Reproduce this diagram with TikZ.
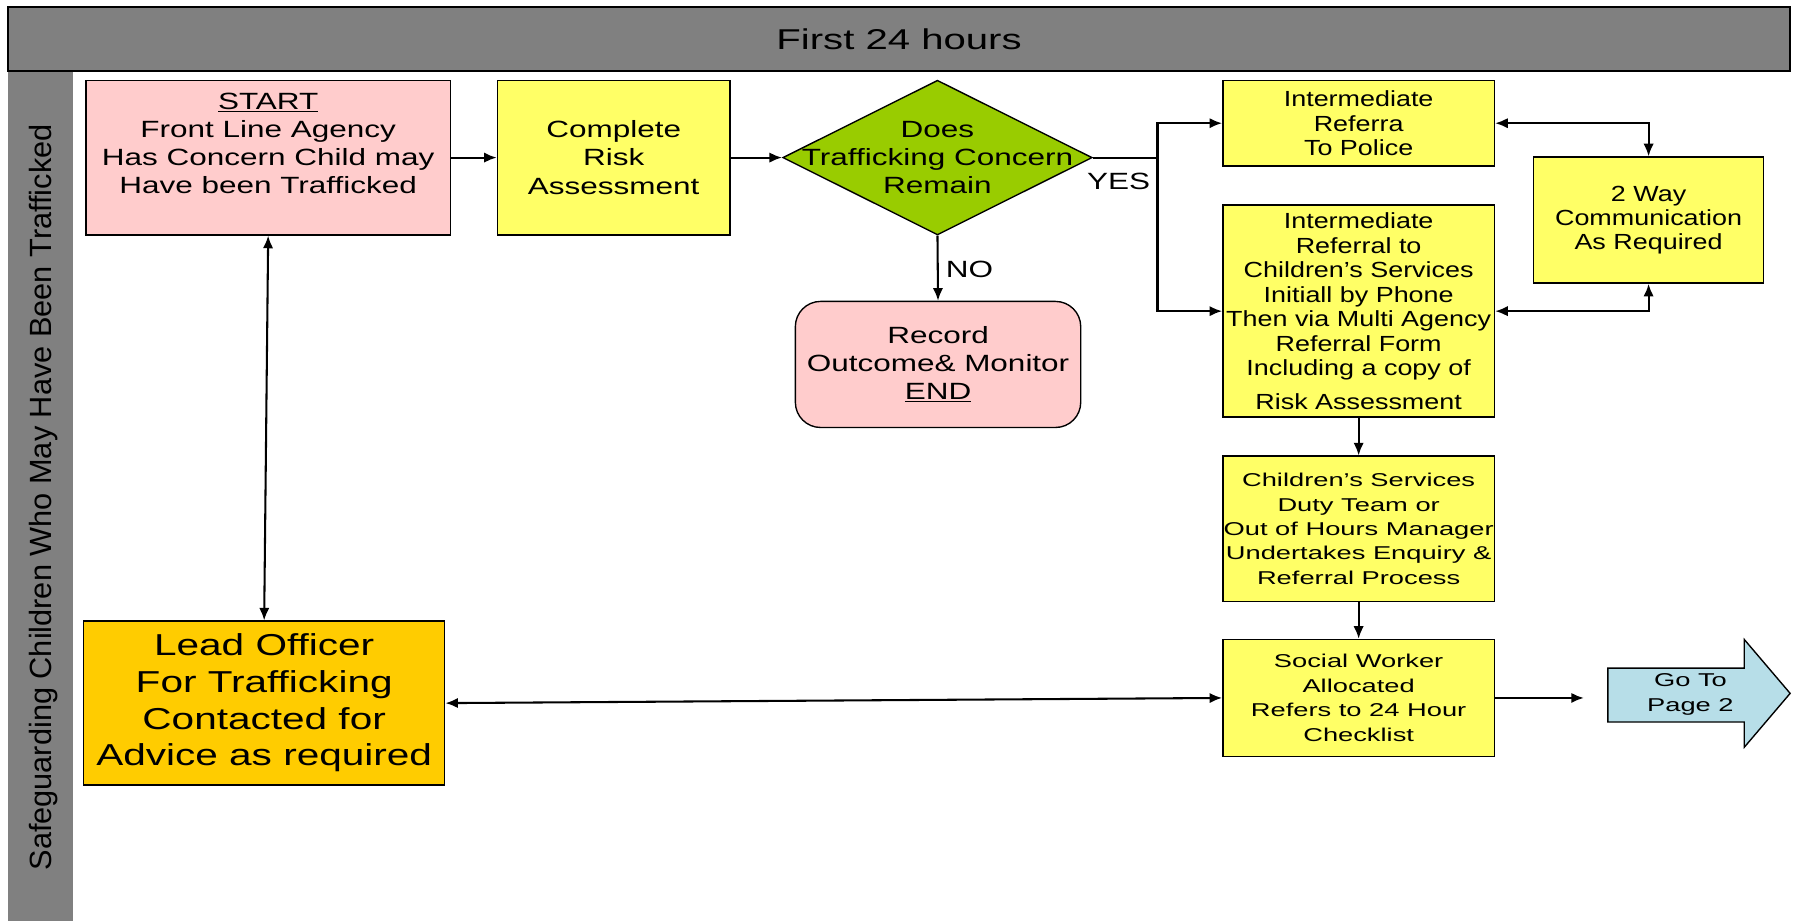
\documentclass[tikz,border=0pt]{standalone}
\usepackage{fontspec}
\setmainfont{Liberation Sans}
\newfontfamily\fhead{Liberation Sans}[FakeStretch=1.4]
\newfontfamily\fmain{Liberation Sans}[FakeStretch=1.34]
\newfontfamily\fnarrow{Liberation Sans}[FakeStretch=1.23]
\newfontfamily\fwide{Liberation Sans}[FakeStretch=1.47]
\usetikzlibrary{arrows.meta,shapes.geometric}
\definecolor{bargrey}{HTML}{808080}
\definecolor{pinkbox}{HTML}{FFCCCC}
\definecolor{yelbox}{HTML}{FFFF66}
\definecolor{greenbox}{HTML}{99CC00}
\definecolor{goldbox}{HTML}{FFCC00}
\definecolor{bluebox}{HTML}{B7DEE8}
\begin{document}
\begin{tikzpicture}[x=1pt,y=-1pt,
  box/.style={draw=black, line width=1.2pt, inner sep=0pt, align=center, anchor=center},
  mainfont/.style={font=\fmain\fontsize{20.5}{24.5}\selectfont},
  narrowfont/.style={font=\fnarrow\fontsize{19.1}{21.3}\selectfont},
  widefont/.style={font=\fwide\fontsize{16.2}{21.3}\selectfont},
  conn/.style={line width=1.8pt, -{Latex[length=11pt,width=9pt]}},
  both/.style={line width=1.8pt, {Latex[length=11pt,width=9pt]}-{Latex[length=11pt,width=9pt]}}]
\useasboundingbox (0,0) rectangle (1568,804);
\fill[white] (0,0) rectangle (1568,804);
% side bar and header
\fill[bargrey] (7,62) rectangle (64,804);
\node[box, fill=bargrey, minimum width=1555pt, minimum height=56pt,
  font=\fhead\fontsize{25}{25}\selectfont] (header) at (784.5,34) {First 24 hours};
\node[rotate=90, font=\fontsize{26.8}{26.8}\selectfont, inner sep=0pt] (side) at (38,434)
  {Safeguarding Children Who May Have Been Trafficked};
% boxes
\node[box, fill=pinkbox, minimum width=318pt, minimum height=135pt, mainfont] (start) at (234,137.5)
  {\underline{START}\\Front Line Agency\\Has Concern Child may\\Have been Trafficked\\\mbox{}};
\node[box, fill=yelbox, minimum width=203pt, minimum height=135pt, mainfont] (risk) at (535.5,137.5)
  {Complete\\Risk\\Assessment};
\node[diamond, draw=black, line width=1.2pt, fill=greenbox, inner sep=0pt,
  minimum width=270pt, minimum height=135pt,
  label={[mainfont, align=center, inner sep=0pt]center:Does\\Trafficking Concern\\Remain}] (dia) at (818,137.5) {};
\node[box, fill=pinkbox, rounded corners=22pt, minimum width=249pt, minimum height=110pt, mainfont] (rec) at (818.5,318)
  {Record\\Outcome\& Monitor\\\underline{END}};
\node[box, fill=yelbox, minimum width=237pt, minimum height=75pt, narrowfont] (police) at (1185.5,107.5)
  {Intermediate\\Referra\\To Police};
\node[box, fill=yelbox, minimum width=201pt, minimum height=110pt, narrowfont] (twoway) at (1438.5,192)
  {2 Way\\Communication\\As Required};
\node[box, fill=yelbox, minimum width=237pt, minimum height=185pt, narrowfont] (refcs) at (1185.5,271.5)
  {Intermediate\\Referral to\\Children’s Services\\Initiall by Phone\\Then via Multi Agency\\Referral Form\\Including a copy of\\[8pt]Risk Assessment};
\node[box, fill=yelbox, minimum width=237pt, minimum height=127pt, widefont] (duty) at (1185.5,461.5)
  {Children’s Services\\Duty Team or\\Out of Hours Manager\\Undertakes Enquiry \&\\Referral Process};
\node[box, fill=yelbox, minimum width=237pt, minimum height=102pt, widefont] (social) at (1185.5,609)
  {Social Worker\\Allocated\\Refers to 24 Hour\\Checklist};
\node[box, fill=goldbox, minimum width=315pt, minimum height=143pt,
  font=\fmain\fontsize{26.4}{32}\selectfont] (lead) at (230.5,613.5)
  {Lead Officer\\For Trafficking\\Contacted for\\Advice as required};
% go to arrow
\filldraw[fill=bluebox, draw=black, line width=1.2pt]
  (1403,583) -- (1522,583) -- (1522,558) -- (1562,605) -- (1522,652) -- (1522,630) -- (1403,630) -- cycle;
\node[widefont, align=center, inner sep=0pt] (goto) at (1475,606) {Go To\\Page 2};
% labels
\node[mainfont, inner sep=0pt] (yes) at (976,158) {YES};
\node[mainfont, inner sep=0pt] (no) at (846,235) {NO};
% connectors
\coordinate (split) at (1010,137.5);
\coordinate (gofree) at (1382,609);
\draw[conn] (start.east) -- (risk.west);
\draw[conn] (risk.west -| risk.east) -- (dia.west);
\draw[conn] (dia.south) -- (rec.north);
\draw[line width=1.8pt] (dia.east) -- (split);
\draw[conn] (split) |- (police.west);
\draw[conn] (split) |- (refcs.west);
\draw[both] (police.east) -| (twoway.north);
\draw[both] (refcs.east) -| (twoway.south);
\draw[conn] (refcs.south) -- (duty.north);
\draw[conn] (duty.south) -- (social.north);
\draw[conn] (social.east) -- (gofree);
\draw[both] (lead.east) -- (social.west);
\draw[both] (start.south) -- (lead.north);
\end{tikzpicture}
\end{document}
